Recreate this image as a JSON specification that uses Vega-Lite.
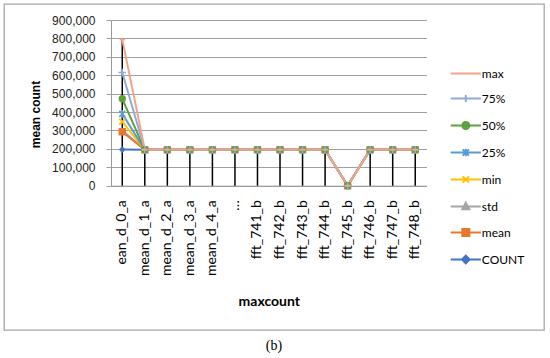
{
  "$schema": "https://vega.github.io/schema/vega-lite/v6.json",
  "width": 540,
  "height": 326,
  "autosize": {"type": "none"},
  "padding": {"left": 4, "top": 4, "right": 6, "bottom": 28},
  "background": "white",
  "title": {"text": "(b)", "orient": "bottom", "anchor": "middle", "frame": "group", "font": "Liberation Serif", "fontSize": 14, "fontWeight": "normal", "color": "#000", "offset": 9},
  "config": {
    "view": {"stroke": "#A6A6A6", "strokeWidth": 1.3},
    "axis": {"domainColor": "#999999", "gridColor": "#A0A0A0", "tickColor": "#A0A0A0"}
  },
  "resolve": {"legend": {"color": "independent", "shape": "independent"}},
  "data": {"values": [
    {"category": "ean_d_0_a", "series": "COUNT", "value": 196000},
    {"category": "ean_d_0_a", "series": "std", "value": 300000},
    {"category": "ean_d_0_a", "series": "mean", "value": 293000},
    {"category": "ean_d_0_a", "series": "min", "value": 348000},
    {"category": "ean_d_0_a", "series": "25%", "value": 390000},
    {"category": "ean_d_0_a", "series": "50%", "value": 472000},
    {"category": "ean_d_0_a", "series": "75%", "value": 615000},
    {"category": "ean_d_0_a", "series": "max", "value": 795000},
    {"category": "mean_d_1_a", "series": "COUNT", "value": 195000},
    {"category": "mean_d_1_a", "series": "std", "value": 195000},
    {"category": "mean_d_1_a", "series": "mean", "value": 195000},
    {"category": "mean_d_1_a", "series": "min", "value": 195000},
    {"category": "mean_d_1_a", "series": "25%", "value": 195000},
    {"category": "mean_d_1_a", "series": "50%", "value": 195000},
    {"category": "mean_d_1_a", "series": "75%", "value": 195000},
    {"category": "mean_d_1_a", "series": "max", "value": 196000},
    {"category": "mean_d_2_a", "series": "COUNT", "value": 195000},
    {"category": "mean_d_2_a", "series": "std", "value": 195000},
    {"category": "mean_d_2_a", "series": "mean", "value": 195000},
    {"category": "mean_d_2_a", "series": "min", "value": 195000},
    {"category": "mean_d_2_a", "series": "25%", "value": 195000},
    {"category": "mean_d_2_a", "series": "50%", "value": 195000},
    {"category": "mean_d_2_a", "series": "75%", "value": 195000},
    {"category": "mean_d_2_a", "series": "max", "value": 196000},
    {"category": "mean_d_3_a", "series": "COUNT", "value": 195000},
    {"category": "mean_d_3_a", "series": "std", "value": 195000},
    {"category": "mean_d_3_a", "series": "mean", "value": 195000},
    {"category": "mean_d_3_a", "series": "min", "value": 195000},
    {"category": "mean_d_3_a", "series": "25%", "value": 195000},
    {"category": "mean_d_3_a", "series": "50%", "value": 195000},
    {"category": "mean_d_3_a", "series": "75%", "value": 195000},
    {"category": "mean_d_3_a", "series": "max", "value": 196000},
    {"category": "mean_d_4_a", "series": "COUNT", "value": 195000},
    {"category": "mean_d_4_a", "series": "std", "value": 195000},
    {"category": "mean_d_4_a", "series": "mean", "value": 195000},
    {"category": "mean_d_4_a", "series": "min", "value": 195000},
    {"category": "mean_d_4_a", "series": "25%", "value": 195000},
    {"category": "mean_d_4_a", "series": "50%", "value": 195000},
    {"category": "mean_d_4_a", "series": "75%", "value": 195000},
    {"category": "mean_d_4_a", "series": "max", "value": 196000},
    {"category": "…", "series": "COUNT", "value": 195000},
    {"category": "…", "series": "std", "value": 195000},
    {"category": "…", "series": "mean", "value": 195000},
    {"category": "…", "series": "min", "value": 195000},
    {"category": "…", "series": "25%", "value": 195000},
    {"category": "…", "series": "50%", "value": 195000},
    {"category": "…", "series": "75%", "value": 195000},
    {"category": "…", "series": "max", "value": 196000},
    {"category": "fft_741_b", "series": "COUNT", "value": 195000},
    {"category": "fft_741_b", "series": "std", "value": 195000},
    {"category": "fft_741_b", "series": "mean", "value": 195000},
    {"category": "fft_741_b", "series": "min", "value": 195000},
    {"category": "fft_741_b", "series": "25%", "value": 195000},
    {"category": "fft_741_b", "series": "50%", "value": 195000},
    {"category": "fft_741_b", "series": "75%", "value": 195000},
    {"category": "fft_741_b", "series": "max", "value": 196000},
    {"category": "fft_742_b", "series": "COUNT", "value": 195000},
    {"category": "fft_742_b", "series": "std", "value": 195000},
    {"category": "fft_742_b", "series": "mean", "value": 195000},
    {"category": "fft_742_b", "series": "min", "value": 195000},
    {"category": "fft_742_b", "series": "25%", "value": 195000},
    {"category": "fft_742_b", "series": "50%", "value": 195000},
    {"category": "fft_742_b", "series": "75%", "value": 195000},
    {"category": "fft_742_b", "series": "max", "value": 196000},
    {"category": "fft_743_b", "series": "COUNT", "value": 195000},
    {"category": "fft_743_b", "series": "std", "value": 195000},
    {"category": "fft_743_b", "series": "mean", "value": 195000},
    {"category": "fft_743_b", "series": "min", "value": 195000},
    {"category": "fft_743_b", "series": "25%", "value": 195000},
    {"category": "fft_743_b", "series": "50%", "value": 195000},
    {"category": "fft_743_b", "series": "75%", "value": 195000},
    {"category": "fft_743_b", "series": "max", "value": 196000},
    {"category": "fft_744_b", "series": "COUNT", "value": 195000},
    {"category": "fft_744_b", "series": "std", "value": 195000},
    {"category": "fft_744_b", "series": "mean", "value": 195000},
    {"category": "fft_744_b", "series": "min", "value": 195000},
    {"category": "fft_744_b", "series": "25%", "value": 195000},
    {"category": "fft_744_b", "series": "50%", "value": 195000},
    {"category": "fft_744_b", "series": "75%", "value": 195000},
    {"category": "fft_744_b", "series": "max", "value": 196000},
    {"category": "fft_745_b", "series": "COUNT", "value": 0},
    {"category": "fft_745_b", "series": "std", "value": 0},
    {"category": "fft_745_b", "series": "mean", "value": 0},
    {"category": "fft_745_b", "series": "min", "value": 0},
    {"category": "fft_745_b", "series": "25%", "value": 0},
    {"category": "fft_745_b", "series": "50%", "value": 0},
    {"category": "fft_745_b", "series": "75%", "value": 0},
    {"category": "fft_745_b", "series": "max", "value": 0},
    {"category": "fft_746_b", "series": "COUNT", "value": 195000},
    {"category": "fft_746_b", "series": "std", "value": 195000},
    {"category": "fft_746_b", "series": "mean", "value": 195000},
    {"category": "fft_746_b", "series": "min", "value": 195000},
    {"category": "fft_746_b", "series": "25%", "value": 195000},
    {"category": "fft_746_b", "series": "50%", "value": 195000},
    {"category": "fft_746_b", "series": "75%", "value": 195000},
    {"category": "fft_746_b", "series": "max", "value": 196000},
    {"category": "fft_747_b", "series": "COUNT", "value": 195000},
    {"category": "fft_747_b", "series": "std", "value": 195000},
    {"category": "fft_747_b", "series": "mean", "value": 195000},
    {"category": "fft_747_b", "series": "min", "value": 195000},
    {"category": "fft_747_b", "series": "25%", "value": 195000},
    {"category": "fft_747_b", "series": "50%", "value": 195000},
    {"category": "fft_747_b", "series": "75%", "value": 195000},
    {"category": "fft_747_b", "series": "max", "value": 196000},
    {"category": "fft_748_b", "series": "COUNT", "value": 195000},
    {"category": "fft_748_b", "series": "std", "value": 195000},
    {"category": "fft_748_b", "series": "mean", "value": 195000},
    {"category": "fft_748_b", "series": "min", "value": 195000},
    {"category": "fft_748_b", "series": "25%", "value": 195000},
    {"category": "fft_748_b", "series": "50%", "value": 195000},
    {"category": "fft_748_b", "series": "75%", "value": 195000},
    {"category": "fft_748_b", "series": "max", "value": 196000}
  ]},
  "encoding": {
    "x": {
      "field": "category", "type": "nominal", "sort": null,
      "scale": {"type": "band", "range": [107, 422.5], "paddingInner": 0, "paddingOuter": 0},
      "axis": {
        "title": "maxcount", "titleFont": "Lato", "titleFontSize": 14, "titleFontWeight": "bold", "titleColor": "#000",
        "titleY": 116, "titleBaseline": "middle",
        "labelAngle": -90, "labelFont": "Lato", "labelFontSize": 14, "labelColor": "#000", "labelPadding": 14,
        "ticks": false, "grid": false, "offset": -144.3, "labelOverlap": false
      }
    },
    "y": {
      "field": "value", "type": "quantitative",
      "scale": {"domain": [0, 900000], "range": [181.7, 16], "nice": false, "zero": true},
      "axis": {
        "title": "mean count", "titleFont": "Liberation Sans", "titleFontSize": 12, "titleFontWeight": "bold", "titleColor": "#000",
        "titleX": -76, "titleY": 110, "titleAlign": "center", "titleBaseline": "middle", "titleAngle": -90,
        "values": [0, 100000, 200000, 300000, 400000, 500000, 600000, 700000, 800000, 900000],
        "format": ",.0f", "labelFont": "Liberation Sans", "labelFontSize": 12, "labelColor": "#222",
        "labelPadding": 11, "tickSize": 5, "grid": true, "offset": -107
      }
    }
  },
  "layer": [
    {
      "transform": [{"filter": "datum.series === 'max'"}],
      "mark": {"type": "rule", "color": "#000", "strokeWidth": 1.5},
      "encoding": {"y2": {"datum": 0}}
    },
    {
      "mark": {"type": "line", "strokeWidth": 2},
      "encoding": {"color": {"field": "series", "type": "nominal", "legend": null}}
    },
    {
      "transform": [{"filter": "datum.series === 'COUNT'"}],
      "mark": {"type": "point", "shape": "diamond", "filled": true, "size": 45, "opacity": 1},
      "encoding": {"color": {"field": "series", "type": "nominal", "legend": null}}
    },
    {
      "transform": [{"filter": "datum.series === 'std'"}],
      "mark": {"type": "point", "shape": "triangle-up", "filled": true, "size": 45, "opacity": 1},
      "encoding": {"color": {"field": "series", "type": "nominal", "legend": null}}
    },
    {
      "transform": [{"filter": "datum.series === 'mean'"}],
      "mark": {"type": "point", "shape": "square", "filled": true, "size": 55, "opacity": 1},
      "encoding": {"color": {"field": "series", "type": "nominal", "legend": null}}
    },
    {
      "transform": [{"filter": "datum.series === 'min'"}],
      "mark": {"type": "point", "shape": "M-1,-1L1,1M-1,1L1,-1", "filled": false, "size": 36, "strokeWidth": 1.5, "opacity": 1},
      "encoding": {"color": {"field": "series", "type": "nominal", "legend": null}}
    },
    {
      "transform": [{"filter": "datum.series === '25%'"}],
      "mark": {"type": "point", "shape": "M-1,-1L1,1M-1,1L1,-1M0,-1.3L0,1.3", "filled": false, "size": 36, "strokeWidth": 1.5, "opacity": 1},
      "encoding": {"color": {"field": "series", "type": "nominal", "legend": null}}
    },
    {
      "transform": [{"filter": "datum.series === '50%'"}],
      "mark": {"type": "point", "shape": "circle", "filled": true, "size": 55, "opacity": 1},
      "encoding": {"color": {"field": "series", "type": "nominal", "legend": null}}
    },
    {
      "transform": [{"filter": "datum.series === '75%'"}],
      "mark": {"type": "point", "shape": "M-1.2,0L1.2,0M0,-1.2L0,1.2", "filled": false, "size": 40, "strokeWidth": 1.5, "opacity": 1},
      "encoding": {"color": {"field": "series", "type": "nominal", "legend": null}}
    },
    {
      "transform": [{"filter": "datum.series === 'max'"}],
      "mark": {"type": "point", "shape": "M-1,0L1,0", "filled": false, "size": 30, "strokeWidth": 2, "opacity": 1},
      "encoding": {"color": {"field": "series", "type": "nominal", "legend": null}}
    },
    {
      "transform": [{"filter": "datum.value < 0"}],
      "mark": {"type": "point", "filled": false, "opacity": 1, "strokeWidth": 2},
      "encoding": {
        "color": {
          "field": "series", "type": "nominal",
          "scale": {
            "domain": ["max", "75%", "50%", "25%", "min", "std", "mean", "COUNT"],
            "range": ["#F4A385", "#8FAADC", "#5E9F3E", "#5B9BD5", "#FFC000", "#A5A5A5", "#E8772E", "#4472C4"]
          },
          "legend": {
            "title": null, "orient": "none", "legendX": 455.8, "legendY": 63.5,
            "labelFont": "Lato", "labelFontSize": 12, "labelColor": "#000",
            "symbolSize": 49, "symbolStrokeWidth": 2, "labelOffset": 10, "rowPadding": 11, "padding": 0
          }
        },
        "shape": {
          "field": "series", "type": "nominal",
          "scale": {
            "domain": ["max", "75%", "50%", "25%", "min", "std", "mean", "COUNT"],
            "range": [
              "M-4.3,0H4.3",
              "M-4.3,0H4.3M0,-1V1",
              "M-4.3,0H4.3M-1,0A1,1 0 1,0 1,0A1,1 0 1,0 -1,0M-0.45,0A0.45,0.45 0 1,0 0.45,0A0.45,0.45 0 1,0 -0.45,0",
              "M-4.3,0H4.3M-0.9,-0.9L0.9,0.9M-0.9,0.9L0.9,-0.9M0,-1.1V1.1",
              "M-4.3,0H4.3M-0.9,-0.9L0.9,0.9M-0.9,0.9L0.9,-0.9",
              "M-4.3,0H4.3M0,-1.1L1,0.8H-1ZM0,-0.4L0.45,0.4H-0.45Z",
              "M-4.3,0H4.3M-1,-1H1V1H-1ZM-0.5,-0.5H0.5V0.5H-0.5Z",
              "M-4.3,0H4.3M0,-1.1L1.1,0L0,1.1L-1.1,0ZM0,-0.5L0.5,0L0,0.5L-0.5,0Z"
            ]
          },
          "legend": {
            "title": null, "orient": "none", "legendX": 455.8, "legendY": 63.5,
            "labelFont": "Lato", "labelFontSize": 12, "labelColor": "#000",
            "symbolSize": 49, "symbolStrokeWidth": 2, "labelOffset": 10, "rowPadding": 11, "padding": 0
          }
        }
      }
    }
  ]
}
